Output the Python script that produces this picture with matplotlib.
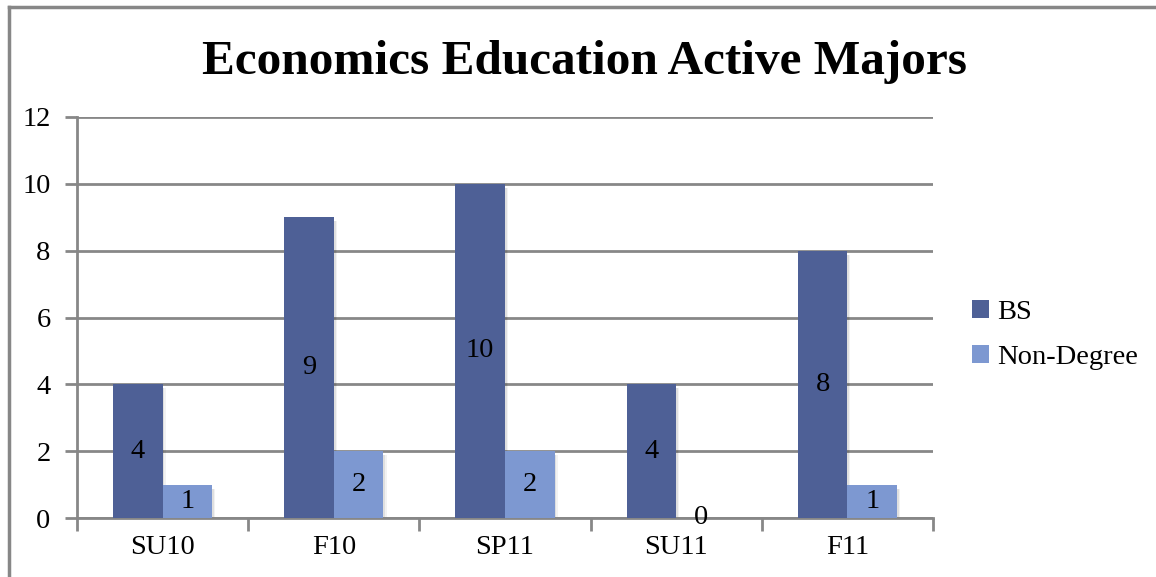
import numpy as np
import matplotlib.pyplot as plt

terms = ['SU10', 'F10', 'SP11', 'SU11', 'F11']
bs = [4, 9, 10, 4, 8]
non_degree = [1, 2, 2, 0, 1]
yticks = [0, 2, 4, 6, 8, 10, 12]

plt.rcParams['font.family'] = ['Liberation Serif', 'DejaVu Serif']

fig = plt.figure(figsize=(11.56, 5.77), dpi=100)
ax = fig.add_axes([77/1156, 59/577, 856/1156, 401/577])

x = np.arange(len(terms))
w = 0.29
dark = '#4E6096'
light = '#7D98D1'
grey = '#878787'

# soft drop shadows
for off, a in [(0.010, 0.08), (0.018, 0.05)]:
    ax.bar(x - w/2 + off, bs, w, bottom=-0.12, color='black', alpha=a, zorder=2, linewidth=0)
    ax.bar(x + w/2 + off, non_degree, w, bottom=-0.12, color='black', alpha=a, zorder=2, linewidth=0)

b1 = ax.bar(x - w/2, bs, w, color=dark, zorder=3, linewidth=0, label='BS')
b2 = ax.bar(x + w/2, non_degree, w, color=light, zorder=3, linewidth=0, label='Non-Degree')

for bars, vals in [(b1, bs), (b2, non_degree)]:
    for r, v in zip(bars, vals):
        ax.text(r.get_x() + r.get_width()/2, v/2, str(v), ha='center', va='center',
                fontsize=20.5, color='black', zorder=4)

ax.set_xlim(-0.5, len(terms) - 0.5)
ax.set_ylim(0, 12)
ax.set_yticks(yticks)
ax.yaxis.grid(True, color=grey, linewidth=2, zorder=0)
ax.set_axisbelow(True)
ax.tick_params(axis='y', length=9, width=2, color=grey, labelsize=20.5, pad=10)
ax.set_xticks(x)
ax.set_xticklabels(terms)
ax.tick_params(axis='x', length=0, labelsize=20.5, pad=12)
ax.set_xticks(np.arange(len(terms) + 1) - 0.5, minor=True)
ax.tick_params(axis='x', which='minor', length=9, width=2, color=grey)
for s in ['top', 'right']:
    ax.spines[s].set_visible(False)
for s in ['left', 'bottom']:
    ax.spines[s].set_color(grey)
    ax.spines[s].set_linewidth(2)

fig.text(585/1156, 1 - 62/577, 'Economics Education Active Majors', ha='center', va='center',
         fontsize=35.5, fontweight='bold')

leg = fig.legend(handles=[b1, b2], loc='center left', bbox_to_anchor=(946/1156, 1 - 335/577),
                 frameon=False, fontsize=20.5, handlelength=0.6, handleheight=0.6,
                 handletextpad=0.3, labelspacing=0.7)

# outer chart border (top and left visible)
fig.add_artist(plt.Line2D([9/1156, 9/1156], [0, 1 - 7/577], transform=fig.transFigure, color=grey, linewidth=2.5))
fig.add_artist(plt.Line2D([9/1156, 1], [1 - 7/577, 1 - 7/577], transform=fig.transFigure, color=grey, linewidth=2.5))

fig.savefig('out.png', dpi=100, facecolor='white')
